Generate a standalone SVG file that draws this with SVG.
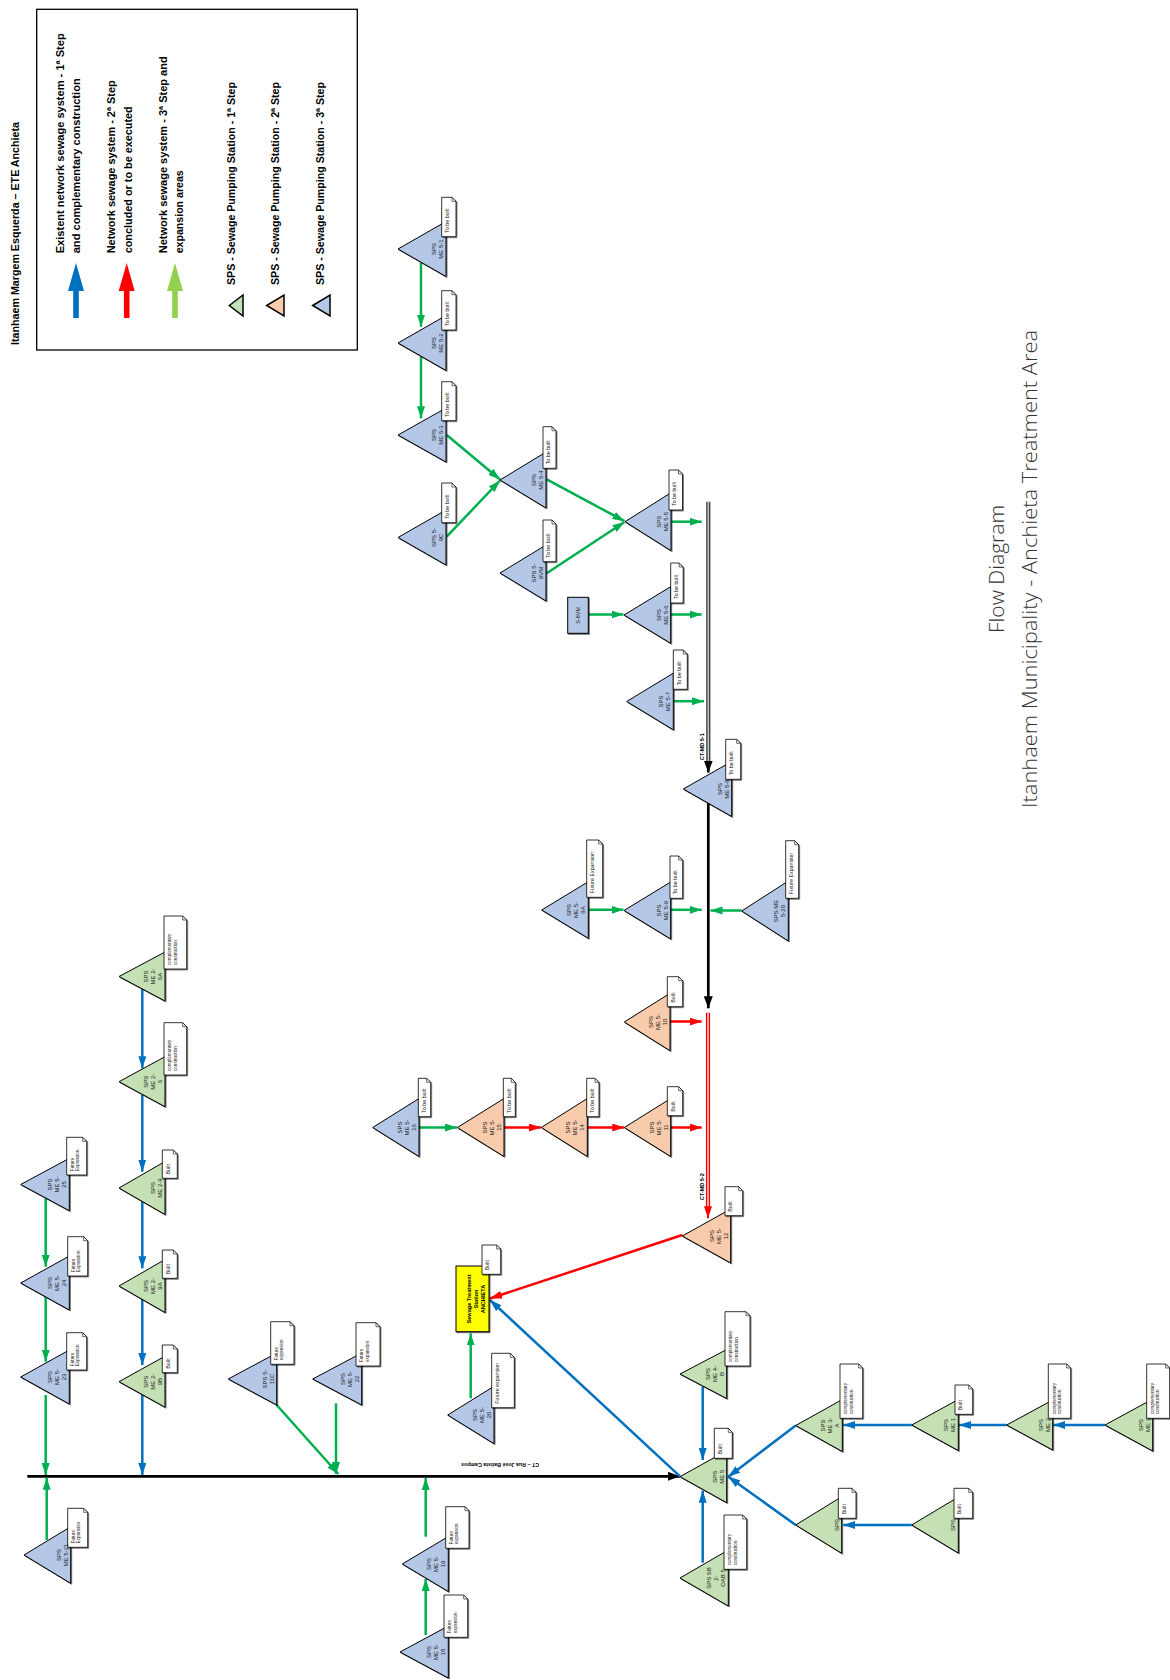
<svg xmlns="http://www.w3.org/2000/svg" width="1170" height="1680" viewBox="0 0 1170 1680">
<defs>
<filter id="sh" x="-20%" y="-20%" width="150%" height="150%"><feDropShadow dx="1" dy="1" stdDeviation="0.3" flood-color="#000" flood-opacity="0.55"/></filter>
<marker id="ag" viewBox="0 0 12 8" refX="12" refY="4" markerWidth="12" markerHeight="8" orient="auto" markerUnits="userSpaceOnUse"><path d="M0,0L12,4L0,8z" fill="#00B050"/></marker>
<marker id="ab" viewBox="0 0 12 8" refX="12" refY="4" markerWidth="12" markerHeight="8" orient="auto" markerUnits="userSpaceOnUse"><path d="M0,0L12,4L0,8z" fill="#0070C0"/></marker>
<marker id="ar" viewBox="0 0 12 8" refX="12" refY="4" markerWidth="12" markerHeight="8" orient="auto" markerUnits="userSpaceOnUse"><path d="M0,0L12,4L0,8z" fill="#FF0000"/></marker>
<marker id="ak" viewBox="0 0 12 9" refX="12" refY="4.5" markerWidth="12" markerHeight="9" orient="auto" markerUnits="userSpaceOnUse"><path d="M0,0L12,4.5L0,9z" fill="#000"/></marker>
</defs>
<style>
.tb{fill:#B4C7E7;stroke:#000;stroke-width:1;filter:url(#sh)}
.tg{fill:#C5E0B4;stroke:#000;stroke-width:1;filter:url(#sh)}
.tp{fill:#F8CBAD;stroke:#000;stroke-width:1;filter:url(#sh)}
.nt{fill:#fff;stroke:#000;stroke-width:0.8;filter:url(#sh)}
.nf{fill:none;stroke:#000;stroke-width:0.6}
.t{font-family:"Liberation Sans",Arial,sans-serif;font-size:6px;fill:#222;text-anchor:middle}
.nx{font-family:"Liberation Sans",Arial,sans-serif;font-size:5.3px;fill:#222}
.nx2{font-family:"Liberation Sans",Arial,sans-serif;font-size:4.6px;fill:#222}
.cg{stroke:#00B050;stroke-width:2.5;fill:none;marker-end:url(#ag)}
.cb{stroke:#0070C0;stroke-width:2.5;fill:none;marker-end:url(#ab)}
.cr{stroke:#FF0000;stroke-width:2.5;fill:none;marker-end:url(#ar)}
.ck{stroke:#000;stroke-width:2.7;fill:none}
.lg{font-family:"Liberation Sans",Arial,sans-serif;font-size:10.5px;font-weight:bold;fill:#000}
.ttl{font-family:"Open Sans","Liberation Sans",Arial,sans-serif;font-size:20px;font-weight:300;fill:#333;text-anchor:middle}
.lb{font-family:"Liberation Sans",Arial,sans-serif;font-size:5.5px;font-weight:bold;fill:#000;text-anchor:middle}
</style>
<rect width="1170" height="1680" fill="#fff"/>

<g id="legend">
<text class="lg" transform="translate(18.5,345) rotate(-90)" textLength="223" lengthAdjust="spacingAndGlyphs">Itanhaem Margem Esquerda – ETE Anchieta</text>
<rect x="36.7" y="9.3" width="320.6" height="340.7" fill="none" stroke="#000" stroke-width="1.3"/>
<text class="lg" transform="translate(63.5,253.3) rotate(-90)" textLength="220" lengthAdjust="spacingAndGlyphs">Existent network sewage system - 1ª Step</text>
<text class="lg" transform="translate(80,253.3) rotate(-90)" textLength="175" lengthAdjust="spacingAndGlyphs">and complementary construction</text>
<text class="lg" transform="translate(115,253.3) rotate(-90)" textLength="173" lengthAdjust="spacingAndGlyphs">Network sewage system - 2ª Step</text>
<text class="lg" transform="translate(131.5,253.3) rotate(-90)" textLength="147" lengthAdjust="spacingAndGlyphs">concluded or to be executed</text>
<text class="lg" transform="translate(167,253.3) rotate(-90)" textLength="197" lengthAdjust="spacingAndGlyphs">Network sewage system - 3ª Step and</text>
<text class="lg" transform="translate(183,253.3) rotate(-90)" textLength="83" lengthAdjust="spacingAndGlyphs">expansion areas</text>
<text class="lg" transform="translate(235,285) rotate(-90)" textLength="203" lengthAdjust="spacingAndGlyphs">SPS - Sewage Pumping Station - 1ª Step</text>
<text class="lg" transform="translate(278.5,285) rotate(-90)" textLength="203" lengthAdjust="spacingAndGlyphs">SPS - Sewage Pumping Station - 2ª Step</text>
<text class="lg" transform="translate(323.5,285) rotate(-90)" textLength="203" lengthAdjust="spacingAndGlyphs">SPS - Sewage Pumping Station - 3ª Step</text>
<polygon points="73.2,318 78.8,318 78.8,291 84,291 76,263 68,291 73.2,291" fill="#0070C0"/>
<polygon points="123.9,318 129.5,318 129.5,291 134.7,291 126.7,263 118.7,291 123.9,291" fill="#FF0000"/>
<polygon points="172.2,318 177.8,318 177.8,291 183,291 175,263 167,291 172.2,291" fill="#92D050"/>
<polygon points="229.3,305.5 243,295 243,316" fill="#C5E0B4" stroke="#000" stroke-width="1.5"/>
<polygon points="266.7,305.5 284,295 284,316" fill="#F8CBAD" stroke="#000" stroke-width="1.5"/>
<polygon points="312.7,305.5 330,295 330,316" fill="#B4C7E7" stroke="#000" stroke-width="1.5"/>
</g>

<g id="title">
<text class="ttl" transform="translate(1004,569) rotate(-90)" textLength="128" lengthAdjust="spacingAndGlyphs">Flow Diagram</text>
<text class="ttl" transform="translate(1036.5,569) rotate(-90)" textLength="478" lengthAdjust="spacingAndGlyphs">Itanhaem Municipality - Anchieta Treatment Area</text>
</g>

<g id="connectors">
<line x1="708.3" y1="501.7" x2="708.3" y2="766" stroke="#444" stroke-width="4.2"/>
<line x1="708.3" y1="501.7" x2="708.3" y2="766" stroke="#c8c8c8" stroke-width="1.4"/>
<line x1="708.3" y1="764" x2="708.3" y2="772.5" class="ck" marker-end="url(#ak)"/>
<line x1="708.3" y1="803" x2="708.3" y2="1008.3" class="ck" marker-end="url(#ak)"/>
<line x1="708" y1="1012.7" x2="708" y2="1210" stroke="#FF0000" stroke-width="4.2"/>
<line x1="708" y1="1012.7" x2="708" y2="1210" stroke="#fff" stroke-width="1.3"/>
<line x1="708" y1="1208" x2="708" y2="1218.3" stroke="#FF0000" stroke-width="2" marker-end="url(#ar)"/>
<line x1="27.3" y1="1476.3" x2="680" y2="1476.3" stroke="#000" stroke-width="2.8" marker-end="url(#ak)"/>
<text class="lb" transform="translate(704.3,746.7) rotate(-90)">CT-MD 5-1</text>
<text class="lb" transform="translate(703.7,1186.7) rotate(-90)">CT-MD 5-2</text>
<text class="lb" transform="translate(500,1463) rotate(180)" style="font-size:5.3px">CT – Rua José Batista Campos</text>
<line class="cg" x1="421" y1="263" x2="421" y2="326.7"/>
<line class="cg" x1="421" y1="356.7" x2="421" y2="418.3"/>
<line class="cg" x1="446.7" y1="435" x2="500" y2="479.5"/>
<line class="cg" x1="446.7" y1="536.7" x2="500" y2="480.5"/>
<line class="cg" x1="546.7" y1="479.3" x2="624.5" y2="521.2"/>
<line class="cg" x1="546.7" y1="573.3" x2="624.5" y2="522"/>
<line class="cg" x1="671.7" y1="521.7" x2="701.7" y2="521.7"/>
<line class="cg" x1="588.3" y1="614.5" x2="623.5" y2="614.5"/>
<line class="cg" x1="670.7" y1="614.5" x2="701.7" y2="614.5"/>
<line class="cg" x1="673.3" y1="701.2" x2="704" y2="701.2"/>
<line class="cg" x1="588.3" y1="909.8" x2="623.5" y2="909.8"/>
<line class="cg" x1="670.7" y1="909.8" x2="701.7" y2="909.8"/>
<line class="cg" x1="741.7" y1="910.5" x2="710.5" y2="910.5"/>
<line class="cg" x1="419" y1="1127.5" x2="457" y2="1127.5"/>
<line class="cg" x1="470.7" y1="1398.3" x2="470.7" y2="1333.3"/>
<line class="cg" x1="425.7" y1="1536.7" x2="425.7" y2="1478"/>
<line class="cg" x1="425.7" y1="1635" x2="425.7" y2="1579"/>
<line class="cg" x1="45.7" y1="1198.3" x2="45.7" y2="1266.7"/>
<line class="cg" x1="45.7" y1="1296.7" x2="45.7" y2="1361.7"/>
<line class="cg" x1="45.7" y1="1395" x2="45.7" y2="1475"/>
<line class="cg" x1="46.7" y1="1540" x2="46.7" y2="1477.7"/>
<line class="cg" x1="276.7" y1="1405" x2="338.3" y2="1474"/>
<line class="cg" x1="336" y1="1403.3" x2="336" y2="1474"/>
<line class="cr" x1="670" y1="1021.5" x2="701.7" y2="1021.5"/>
<line class="cr" x1="504" y1="1127.5" x2="541" y2="1127.5"/>
<line class="cr" x1="587.3" y1="1127.5" x2="624.3" y2="1127.5"/>
<line class="cr" x1="670.7" y1="1127.5" x2="701.7" y2="1127.5"/>
<line class="cr" x1="682.3" y1="1235" x2="490" y2="1298.5"/>
<line class="cb" x1="142.3" y1="988.3" x2="142.3" y2="1068.3"/>
<line class="cb" x1="142.3" y1="1095" x2="142.3" y2="1171.7"/>
<line class="cb" x1="142.3" y1="1201.7" x2="142.3" y2="1268.3"/>
<line class="cb" x1="142.3" y1="1298.3" x2="142.3" y2="1365"/>
<line class="cb" x1="142.3" y1="1395" x2="142.3" y2="1475"/>
<line class="cb" x1="702.7" y1="1386.7" x2="702.7" y2="1460"/>
<line class="cb" x1="702.7" y1="1562.7" x2="702.7" y2="1490.7"/>
<line class="cb" x1="680" y1="1476.3" x2="490" y2="1300"/>
<line class="cb" x1="795.7" y1="1425.5" x2="728.3" y2="1476.7"/>
<line class="cb" x1="795.7" y1="1525" x2="728.3" y2="1476.7"/>
<line class="cb" x1="911.7" y1="1425" x2="843.3" y2="1425"/>
<line class="cb" x1="1006.7" y1="1425" x2="959" y2="1425"/>
<line class="cb" x1="1105" y1="1425" x2="1053.3" y2="1425"/>
<line class="cb" x1="911.7" y1="1525" x2="843.3" y2="1525"/>
</g>

<g id="sts">
<rect x="456" y="1266" width="33" height="65.7" fill="#FFFF00" stroke="#000" stroke-width="1" filter="url(#sh)"/>
<text class="t" transform="translate(471.3,1299) rotate(-90)" style="font-weight:bold;font-size:5.6px;fill:#000"><tspan x="0">Sewage Treatment</tspan><tspan x="0" dy="7">Station</tspan><tspan x="0" dy="7">ANCHIETA</tspan></text>
<path class="nt" d="M482,1245h14.7l4,4v25.3h-18.7z"/><path class="nf" d="M496.7,1245v4h4"/>
<text class="nx" transform="translate(489.4,1270.3) rotate(-90)">Built</text>
</g>

<g id="s6vm">
<rect x="567.7" y="597.3" width="20.6" height="36" fill="#B4C7E7" stroke="#000" stroke-width="1" filter="url(#sh)"/>
<text class="t" transform="translate(580,615.3) rotate(-90)" style="font-size:5.5px">S-6VM</text>
</g>

<g id="me5-1"><polygon class="tb" points="398,249 446,221.5 446,276.5"/><path class="nt" d="M441.7,197.3h10.3l4,4v35.4h-14.3z"/><path class="nf" d="M452,197.3v4h4"/><text class="nx" transform="translate(449.1,232.7) rotate(-90)">To be built</text><text class="t" transform="translate(436,249) rotate(-90)"><tspan x="0">SPS</tspan><tspan x="0" dy="7">ME 5-1</tspan></text></g>
<g id="me5-2"><polygon class="tb" points="398,343 446,315.5 446,370.5"/><path class="nt" d="M441.7,290.7h10.3l4,4v35.3h-14.3z"/><path class="nf" d="M452,290.7v4h4"/><text class="nx" transform="translate(449.1,326) rotate(-90)">To be built</text><text class="t" transform="translate(436,343) rotate(-90)"><tspan x="0">SPS</tspan><tspan x="0" dy="7">ME 5-2</tspan></text></g>
<g id="me5-3"><polygon class="tb" points="398,435 446,408 446,462"/><path class="nt" d="M441.7,381.7h10.3l4,4v35h-14.3z"/><path class="nf" d="M452,381.7v4h4"/><text class="nx" transform="translate(449.1,416.7) rotate(-90)">To be built</text><text class="t" transform="translate(436,435) rotate(-90)"><tspan x="0">SPS</tspan><tspan x="0" dy="7">ME 5-3</tspan></text></g>
<g id="sps5-9c"><polygon class="tb" points="398,537.5 446,510 446,565"/><path class="nt" d="M441.7,483h10.3l4,4v35.7h-14.3z"/><path class="nf" d="M452,483v4h4"/><text class="nx" transform="translate(449.1,518.7) rotate(-90)">To be built</text><text class="t" transform="translate(436,537.5) rotate(-90)"><tspan x="0">SPS 5-</tspan><tspan x="0" dy="7">9C</tspan></text></g>
<g id="me5-4"><polygon class="tb" points="500,480 546,452 546,508"/><path class="nt" d="M543,426.7h9l4,4v37.6h-13z"/><path class="nf" d="M552,426.7v4h4"/><text class="nx" transform="translate(550.4,464.3) rotate(-90)">To be built</text><text class="t" transform="translate(536,480) rotate(-90)"><tspan x="0">SPS</tspan><tspan x="0" dy="7">ME 5-4</tspan></text></g>
<g id="sps5-9m"><polygon class="tb" points="500,573 546,545 546,601"/><path class="nt" d="M543,520h9l4,4v37.7h-13z"/><path class="nf" d="M552,520v4h4"/><text class="nx" transform="translate(550.4,557.7) rotate(-90)">To be built</text><text class="t" transform="translate(536,573) rotate(-90)"><tspan x="0">SPS 5-</tspan><tspan x="0" dy="7">9VM</tspan></text></g>
<g id="me5-5"><polygon class="tb" points="625,521.7 671,492.7 671,550.7"/><path class="nt" d="M669,470h9.5l4,4v36h-13.5z"/><path class="nf" d="M678.5,470v4h4"/><text class="nx" transform="translate(676.4,506) rotate(-90)">To be built</text><text class="t" transform="translate(661,521.7) rotate(-90)"><tspan x="0">SPS</tspan><tspan x="0" dy="7">ME 5-5</tspan></text></g>
<g id="me5-6"><polygon class="tb" points="624,615 670.7,586.7 670.7,643.3"/><path class="nt" d="M670.7,563h8.5l4,4v36h-12.5z"/><path class="nf" d="M679.2,563v4h4"/><text class="nx" transform="translate(678.1,599) rotate(-90)">To be built</text><text class="t" transform="translate(660.7,615) rotate(-90)"><tspan x="0">SPS</tspan><tspan x="0" dy="7">ME 5-6</tspan></text></g>
<g id="me5-7"><polygon class="tb" points="626.7,701.5 673.3,673.2 673.3,729.8"/><path class="nt" d="M673.3,650h10l4,4v35.3h-14z"/><path class="nf" d="M683.3,650v4h4"/><text class="nx" transform="translate(680.7,685.3) rotate(-90)">To be built</text><text class="t" transform="translate(663.3,701.5) rotate(-90)"><tspan x="0">SPS</tspan><tspan x="0" dy="7">ME 5-7</tspan></text></g>
<g id="me5-8"><polygon class="tb" points="683.3,789 731.7,761.5 731.7,816.5"/><path class="nt" d="M725.7,739.3h11l4,4v36h-15z"/><path class="nf" d="M736.7,739.3v4h4"/><text class="nx" transform="translate(733.1,775.3) rotate(-90)">To be built</text><text class="t" transform="translate(721.7,789) rotate(-90)"><tspan x="0">SPS</tspan><tspan x="0" dy="7">ME 5-8</tspan></text></g>
<g id="me5-9a"><polygon class="tb" points="541.7,910 588.3,881.7 588.3,938.3"/><path class="nt" d="M586.7,840h12l4,4v53.3h-16z"/><path class="nf" d="M598.7,840v4h4"/><text class="nx" transform="translate(594.1,893.3) rotate(-90)">Future Expansion</text><text class="t" transform="translate(571.3,910) rotate(-90)"><tspan x="0">SPS</tspan><tspan x="0" dy="7">ME 5-</tspan><tspan x="0" dy="7">9A</tspan></text></g>
<g id="me5-9"><polygon class="tb" points="624,910.5 670.7,882 670.7,939"/><path class="nt" d="M670,856h8.7l4,4v38.3h-12.7z"/><path class="nf" d="M678.7,856v4h4"/><text class="nx" transform="translate(677.4,894.3) rotate(-90)">To be built</text><text class="t" transform="translate(660.7,910.5) rotate(-90)"><tspan x="0">SPS</tspan><tspan x="0" dy="7">ME 5-9</tspan></text></g>
<g id="me5-20a"><polygon class="tb" points="741.7,911 788.3,881 788.3,941"/><path class="nt" d="M785.7,840.7h9l4,4v53.6h-13z"/><path class="nf" d="M794.7,840.7v4h4"/><text class="nx" transform="translate(793.1,894.3) rotate(-90)">Future Expansion</text><text class="t" transform="translate(778.3,911) rotate(-90)"><tspan x="0">SPS ME</tspan><tspan x="0" dy="7">5-20</tspan></text></g>
<g id="me5-16"><polygon class="tb" points="372.7,1127.5 419,1098.5 419,1156.5"/><path class="nt" d="M418.3,1078.3h8.4l4,4v34.4h-12.4z"/><path class="nf" d="M426.7,1078.3v4h4"/><text class="nx" transform="translate(425.7,1112.7) rotate(-90)">To be built</text><text class="t" transform="translate(402,1127.5) rotate(-90)"><tspan x="0">SPS</tspan><tspan x="0" dy="7">ME 5-</tspan><tspan x="0" dy="7">16</tspan></text></g>
<g id="me5-20b"><polygon class="tb" points="447.7,1415 494,1386.3 494,1443.7"/><path class="nt" d="M491.7,1353.3h18.6l4,4v50.4h-22.6z"/><path class="nf" d="M510.3,1353.3v4h4"/><text class="nx" transform="translate(499.1,1403.7) rotate(-90)">Future expansion</text><text class="t" transform="translate(477,1415) rotate(-90)"><tspan x="0">SPS</tspan><tspan x="0" dy="7">ME 5-</tspan><tspan x="0" dy="7">20</tspan></text></g>
<g id="me5-19"><polygon class="tb" points="402.3,1564 448.3,1536.5 448.3,1591.5"/><path class="nt" d="M445.7,1506.7h19.3l4,4v37.6h-23.3z"/><path class="nf" d="M465,1506.7v4h4"/><text class="nx2" transform="translate(452.9,1544.3) rotate(-90)"><tspan x="0">Future</tspan><tspan x="0" dy="5.6">expansion</tspan></text><text class="t" transform="translate(431.3,1564) rotate(-90)"><tspan x="0">SPS</tspan><tspan x="0" dy="7">ME 5-</tspan><tspan x="0" dy="7">19</tspan></text></g>
<g id="me5-18"><polygon class="tb" points="400,1652 448.3,1626 448.3,1678"/><path class="nt" d="M444,1595h19.7l4,4v38.3h-23.7z"/><path class="nf" d="M463.7,1595v4h4"/><text class="nx2" transform="translate(451.2,1633.3) rotate(-90)"><tspan x="0">Future</tspan><tspan x="0" dy="5.6">expansion</tspan></text><text class="t" transform="translate(431.3,1652) rotate(-90)"><tspan x="0">SPS</tspan><tspan x="0" dy="7">ME 5-</tspan><tspan x="0" dy="7">18</tspan></text></g>
<g id="me5-25"><polygon class="tb" points="20.7,1184.5 69.3,1158.3 69.3,1210.7"/><path class="nt" d="M66.7,1137.3h16l4,4v33.7h-20z"/><path class="nf" d="M82.7,1137.3v4h4"/><text class="nx2" transform="translate(73.9,1171) rotate(-90)"><tspan x="0">Future</tspan><tspan x="0" dy="5.6">Expansion</tspan></text><text class="t" transform="translate(52.3,1184.5) rotate(-90)"><tspan x="0">SPS</tspan><tspan x="0" dy="7">ME 5-</tspan><tspan x="0" dy="7">25</tspan></text></g>
<g id="me5-24"><polygon class="tb" points="20.7,1283 69.3,1256 69.3,1310"/><path class="nt" d="M67.7,1236.7h16l4,4v35.3h-20z"/><path class="nf" d="M83.7,1236.7v4h4"/><text class="nx2" transform="translate(74.9,1272) rotate(-90)"><tspan x="0">Future</tspan><tspan x="0" dy="5.6">Expansion</tspan></text><text class="t" transform="translate(52.3,1283) rotate(-90)"><tspan x="0">SPS</tspan><tspan x="0" dy="7">ME 5-</tspan><tspan x="0" dy="7">24</tspan></text></g>
<g id="me5-23"><polygon class="tb" points="20.7,1377 69.3,1350 69.3,1404"/><path class="nt" d="M66.7,1332.7h16l4,4v33.3h-20z"/><path class="nf" d="M82.7,1332.7v4h4"/><text class="nx2" transform="translate(73.9,1366) rotate(-90)"><tspan x="0">Future</tspan><tspan x="0" dy="5.6">Expansion</tspan></text><text class="t" transform="translate(52.3,1377) rotate(-90)"><tspan x="0">SPS</tspan><tspan x="0" dy="7">ME 5-</tspan><tspan x="0" dy="7">23</tspan></text></g>
<g id="me5-21"><polygon class="tb" points="24,1555 70.7,1526.7 70.7,1583.3"/><path class="nt" d="M67.7,1508.3h16l4,4v35h-20z"/><path class="nf" d="M83.7,1508.3v4h4"/><text class="nx2" transform="translate(74.9,1543.3) rotate(-90)"><tspan x="0">Future</tspan><tspan x="0" dy="5.6">Expansion</tspan></text><text class="t" transform="translate(60.7,1555) rotate(-90)"><tspan x="0">SPS</tspan><tspan x="0" dy="7">ME 5-21</tspan></text></g>
<g id="sps5-11c"><polygon class="tb" points="228.3,1379 276.7,1353 276.7,1405"/><path class="nt" d="M270.7,1321.7h19.3l4,4v38.6h-23.3z"/><path class="nf" d="M290,1321.7v4h4"/><text class="nx2" transform="translate(277.9,1360.3) rotate(-90)"><tspan x="0">Future</tspan><tspan x="0" dy="5.6">expansion</tspan></text><text class="t" transform="translate(266.7,1379) rotate(-90)"><tspan x="0">SPS 5-</tspan><tspan x="0" dy="7">11C</tspan></text></g>
<g id="me5-22"><polygon class="tb" points="312.7,1379 361.7,1353 361.7,1405"/><path class="nt" d="M356,1322.7h20l4,4v39.3h-24z"/><path class="nf" d="M376,1322.7v4h4"/><text class="nx2" transform="translate(363.2,1362) rotate(-90)"><tspan x="0">Future</tspan><tspan x="0" dy="5.6">expansion</tspan></text><text class="t" transform="translate(344.7,1379) rotate(-90)"><tspan x="0">SPS</tspan><tspan x="0" dy="7">ME 5-</tspan><tspan x="0" dy="7">22</tspan></text></g>

<g id="me5-10"><polygon class="tp" points="624.3,1022 670,993.3 670,1050.7"/><path class="nt" d="M667.3,976.7h11.4l4,4v26h-15.4z"/><path class="nf" d="M678.7,976.7v4h4"/><text class="nx" transform="translate(674.7,1002.7) rotate(-90)">Built</text><text class="t" transform="translate(653,1022) rotate(-90)"><tspan x="0">SPS</tspan><tspan x="0" dy="7">ME 5-</tspan><tspan x="0" dy="7">10</tspan></text></g>
<g id="me5-15"><polygon class="tp" points="457.3,1127.5 504,1098.5 504,1156.5"/><path class="nt" d="M503.3,1078.3h8l4,4v34.4h-12z"/><path class="nf" d="M511.3,1078.3v4h4"/><text class="nx" transform="translate(510.7,1112.7) rotate(-90)">To be built</text><text class="t" transform="translate(487,1127.5) rotate(-90)"><tspan x="0">SPS</tspan><tspan x="0" dy="7">ME 5-</tspan><tspan x="0" dy="7">15</tspan></text></g>
<g id="me5-14"><polygon class="tp" points="541.3,1127.5 587.3,1098.5 587.3,1156.5"/><path class="nt" d="M586.7,1078.3h8.3l4,4v34.4h-12.3z"/><path class="nf" d="M595,1078.3v4h4"/><text class="nx" transform="translate(594.1,1112.7) rotate(-90)">To be built</text><text class="t" transform="translate(570.3,1127.5) rotate(-90)"><tspan x="0">SPS</tspan><tspan x="0" dy="7">ME 5-</tspan><tspan x="0" dy="7">14</tspan></text></g>
<g id="me5-11"><polygon class="tp" points="624.3,1127.5 670.7,1098.5 670.7,1156.5"/><path class="nt" d="M667.3,1086.7h11.4l4,4v25h-15.4z"/><path class="nf" d="M678.7,1086.7v4h4"/><text class="nx" transform="translate(674.7,1111.7) rotate(-90)">Built</text><text class="t" transform="translate(653.7,1127.5) rotate(-90)"><tspan x="0">SPS</tspan><tspan x="0" dy="7">ME 5-</tspan><tspan x="0" dy="7">11</tspan></text></g>
<g id="me5-12"><polygon class="tp" points="682.3,1236 730.7,1209 730.7,1263"/><path class="nt" d="M725,1186.7h13.7l4,4v25h-17.7z"/><path class="nf" d="M738.7,1186.7v4h4"/><text class="nx" transform="translate(732.4,1211.7) rotate(-90)">Built</text><text class="t" transform="translate(713.7,1236) rotate(-90)"><tspan x="0">SPS</tspan><tspan x="0" dy="7">ME 5-</tspan><tspan x="0" dy="7">12</tspan></text></g>

<g id="me2-6a"><polygon class="tg" points="119,976.5 165,952 165,1001"/><path class="nt" d="M164,916h18.7l4,4v49h-22.7z"/><path class="nf" d="M182.7,916v4h4"/><text class="nx2" transform="translate(171.2,965) rotate(-90)"><tspan x="0">complementary</tspan><tspan x="0" dy="5.6">construction</tspan></text><text class="t" transform="translate(148,976.5) rotate(-90)"><tspan x="0">SPS</tspan><tspan x="0" dy="7">ME 2-</tspan><tspan x="0" dy="7">6A</tspan></text></g>
<g id="me2-6"><polygon class="tg" points="119,1081.7 165,1056.7 165,1106.7"/><path class="nt" d="M164,1022.7h18.7l4,4v48.3h-22.7z"/><path class="nf" d="M182.7,1022.7v4h4"/><text class="nx2" transform="translate(171.2,1071) rotate(-90)"><tspan x="0">complementary</tspan><tspan x="0" dy="5.6">construction</tspan></text><text class="t" transform="translate(148,1081.7) rotate(-90)"><tspan x="0">SPS</tspan><tspan x="0" dy="7">ME 2-</tspan><tspan x="0" dy="7">6</tspan></text></g>
<g id="me2-9"><polygon class="tg" points="119,1188 165,1161.5 165,1214.5"/><path class="nt" d="M162.3,1150h11l4,4v24.3h-15z"/><path class="nf" d="M173.3,1150v4h4"/><text class="nx" transform="translate(169.7,1174.3) rotate(-90)">Built</text><text class="t" transform="translate(155,1188) rotate(-90)"><tspan x="0">SPS</tspan><tspan x="0" dy="7">ME 2-9</tspan></text></g>
<g id="me2-9a"><polygon class="tg" points="119,1286 165,1259.5 165,1312.5"/><path class="nt" d="M162.3,1250h11l4,4v24.3h-15z"/><path class="nf" d="M173.3,1250v4h4"/><text class="nx" transform="translate(169.7,1274.3) rotate(-90)">Built</text><text class="t" transform="translate(148,1286) rotate(-90)"><tspan x="0">SPS</tspan><tspan x="0" dy="7">ME 2-</tspan><tspan x="0" dy="7">9A</tspan></text></g>
<g id="me2-9b"><polygon class="tg" points="119,1381.7 165,1356.2 165,1407.2"/><path class="nt" d="M162.3,1345h11l4,4v23.7h-15z"/><path class="nf" d="M173.3,1345v4h4"/><text class="nx" transform="translate(169.7,1368.7) rotate(-90)">Built</text><text class="t" transform="translate(148,1381.7) rotate(-90)"><tspan x="0">SPS</tspan><tspan x="0" dy="7">ME 2-</tspan><tspan x="0" dy="7">9B</tspan></text></g>
<g id="me4-b"><polygon class="tg" points="680,1374 726.7,1349.5 726.7,1398.5"/><path class="nt" d="M725,1311.7h21l4,4v50.3h-25z"/><path class="nf" d="M746,1311.7v4h4"/><text class="nx2" transform="translate(732.2,1362) rotate(-90)"><tspan x="0">complementary</tspan><tspan x="0" dy="5.6">construction</tspan></text><text class="t" transform="translate(709.7,1374) rotate(-90)"><tspan x="0">SPS</tspan><tspan x="0" dy="7">ME 4-</tspan><tspan x="0" dy="7">B</tspan></text></g>
<g id="me5"><polygon class="tg" points="680,1476.7 726.7,1450.7 726.7,1502.7"/><path class="nt" d="M714.3,1428.3h14l4,4v26h-18z"/><path class="nf" d="M728.3,1428.3v4h4"/><text class="nx" transform="translate(721.7,1454.3) rotate(-90)">Built</text><text class="t" transform="translate(716.7,1476.7) rotate(-90)"><tspan x="0">SPS</tspan><tspan x="0" dy="7">ME 5</tspan></text></g>
<g id="sb2-oab5"><polygon class="tg" points="680,1578 728.3,1550 728.3,1606"/><path class="nt" d="M724,1515h18.7l4,4v50.3h-22.7z"/><path class="nf" d="M742.7,1515v4h4"/><text class="nx2" transform="translate(731.2,1565.3) rotate(-90)"><tspan x="0">complementary</tspan><tspan x="0" dy="5.6">construction</tspan></text><text class="t" transform="translate(711.3,1578) rotate(-90)"><tspan x="0">SPS SB</tspan><tspan x="0" dy="7">2-</tspan><tspan x="0" dy="7">OAB 5</tspan></text></g>
<g id="me3-a"><polygon class="tg" points="795.7,1425.5 842.3,1399.5 842.3,1451.5"/><path class="nt" d="M840,1364h18.7l4,4v50.3h-22.7z"/><path class="nf" d="M858.7,1364v4h4"/><text class="nx2" transform="translate(847.2,1414.3) rotate(-90)"><tspan x="0">complementary</tspan><tspan x="0" dy="5.6">construction</tspan></text><text class="t" transform="translate(825.3,1425.5) rotate(-90)"><tspan x="0">SPS</tspan><tspan x="0" dy="7">ME 3-</tspan><tspan x="0" dy="7">A</tspan></text></g>
<g id="me1"><polygon class="tg" points="911.7,1425 958.3,1399.5 958.3,1450.5"/><path class="nt" d="M955,1385h13.7l4,4v25.3h-17.7z"/><path class="nf" d="M968.7,1385v4h4"/><text class="nx" transform="translate(962.4,1410.3) rotate(-90)">Built</text><text class="t" transform="translate(948.3,1425) rotate(-90)"><tspan x="0">SPS</tspan><tspan x="0" dy="7">ME 1</tspan></text></g>
<g id="me2"><polygon class="tg" points="1006.7,1425 1052.7,1400 1052.7,1450"/><path class="nt" d="M1048.3,1364h18.4l4,4v50.3h-22.4z"/><path class="nf" d="M1066.7,1364v4h4"/><text class="nx2" transform="translate(1055.5,1414.3) rotate(-90)"><tspan x="0">complementary</tspan><tspan x="0" dy="5.6">construction</tspan></text><text class="t" transform="translate(1042.7,1425) rotate(-90)"><tspan x="0">SPS</tspan><tspan x="0" dy="7">ME 2</tspan></text></g>
<g id="me3"><polygon class="tg" points="1105,1425 1152.7,1399 1152.7,1451"/><path class="nt" d="M1146.7,1364h19l4,4v50.3h-23z"/><path class="nf" d="M1165.7,1364v4h4"/><text class="nx2" transform="translate(1153.9,1414.3) rotate(-90)"><tspan x="0">complementary</tspan><tspan x="0" dy="5.6">construction</tspan></text><text class="t" transform="translate(1142.7,1425) rotate(-90)"><tspan x="0">SPS</tspan><tspan x="0" dy="7">ME 3</tspan></text></g>
<g id="sps-l1"><polygon class="tg" points="795.7,1525 841.7,1496.7 841.7,1553.3"/><path class="nt" d="M838.3,1488.3h13.7l4,4v26h-17.7z"/><path class="nf" d="M852,1488.3v4h4"/><text class="nx" transform="translate(845.7,1514.3) rotate(-90)">Built</text><text class="t" transform="translate(838.7,1525) rotate(-90)">SPS</text></g>
<g id="sps-l2"><polygon class="tg" points="911.7,1525 958.3,1497 958.3,1553"/><path class="nt" d="M954,1488.3h14.7l4,4v26h-18.7z"/><path class="nf" d="M968.7,1488.3v4h4"/><text class="nx" transform="translate(961.4,1514.3) rotate(-90)">Built</text><text class="t" transform="translate(955.3,1525) rotate(-90)">SPS</text></g>
</svg>
